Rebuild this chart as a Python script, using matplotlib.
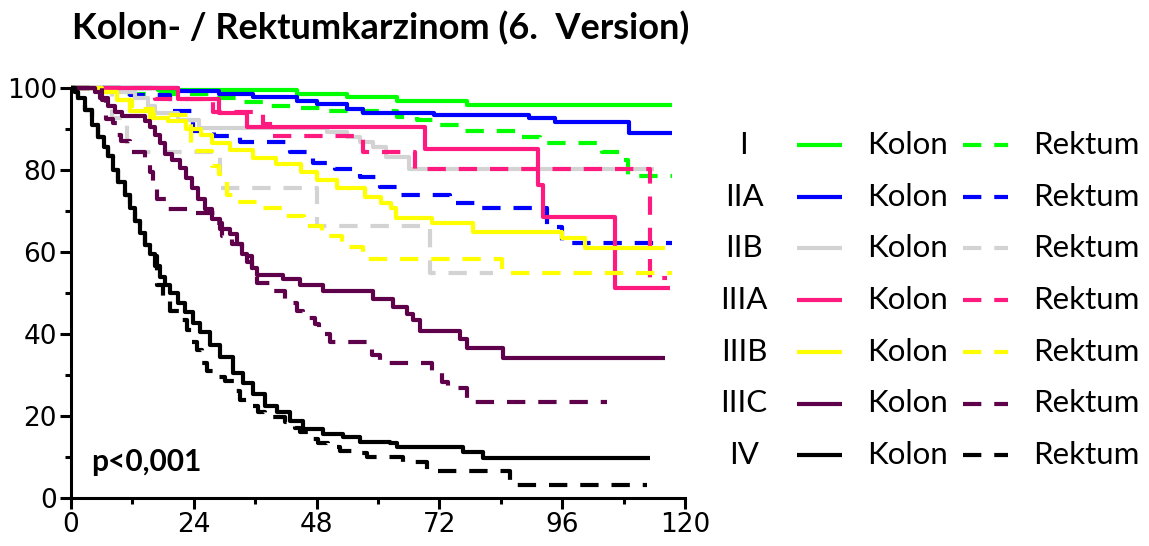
import matplotlib
matplotlib.use("Agg")
import matplotlib.pyplot as plt
from matplotlib.lines import Line2D
from matplotlib.ticker import MultipleLocator

# ---- data (months, % survival) ----
stages = ["I", "IIA", "IIB", "IIIA", "IIIB", "IIIC", "IV"]
colours = ["#00ff00", "#0000ff", "#d3d3d3", "#ff1a7f", "#ffff00", "#5e004a", "#000000"]
x_ticks = [0, 24, 48, 72, 96, 120]
y_ticks = [0, 20, 40, 60, 80, 100]

i_kolon_t = [0, 17, 44.2, 53.9, 63.7, 77.4, 117.5]
i_kolon_s = [100, 99.6, 98.6, 97.7, 96.9, 95.9, 95.9]
i_rektum_t = [0, 11, 27.5, 33, 38.5, 44.8, 50, 63.7, 67.6, 72, 76, 88, 91.7, 103.8, 107.3, 108.8, 117.5]
i_rektum_s = [100, 98.6, 97.5, 96.5, 95.7, 95.2, 94.5, 93, 92.2, 91, 89.5, 88, 86.6, 84.4, 82.4, 78.5, 78.5]

iia_kolon_t = [0, 21, 29, 35.5, 44.2, 48, 54, 57, 71, 89.5, 94.5, 109, 117.5]
iia_kolon_s = [100, 99.3, 98.5, 97.8, 96.8, 96, 94.8, 94, 93.4, 92.6, 91.7, 89, 89]
iia_rektum_t = [0, 11.5, 19.3, 23.8, 28, 33, 42.8, 47.3, 51.5, 56.5, 60.4, 64.3, 74, 80.3, 93, 96, 117.5]
iia_rektum_s = [100, 98.2, 94.3, 89.5, 88.3, 86.8, 84.4, 81.7, 80.2, 78.3, 75.9, 73.9, 72, 70.7, 66, 62.2, 62.2]

iib_kolon_t = [0, 9, 12.5, 15, 16.5, 21, 25, 50, 54, 56.5, 59, 61.5, 66, 114]
iib_kolon_s = [100, 99, 97.5, 95.5, 94, 92.2, 90.3, 89.3, 88, 86.8, 85.6, 83.2, 80.2, 80.2]
iib_rektum_t = [0, 8, 11, 29.1, 48.1, 70.2, 82.5]
iib_rektum_s = [100, 92.8, 84.4, 75.5, 66.3, 55, 55]

iiia_kolon_t = [0, 21, 29, 34.4, 69.2, 91.3, 92.2, 106.3, 117]
iiia_kolon_s = [100, 97.3, 93.8, 90.6, 85.1, 76.3, 68.5, 51.2, 51.2]
iiia_rektum_t = [0, 16.4, 27.7, 37.5, 39.5, 57.1, 67.2, 113.2, 116.5]
iiia_rektum_s = [100, 97.3, 94.2, 91.2, 88.2, 84.4, 80.2, 53.7, 53.7]

iiib_kolon_t = [0, 6, 9, 11.5, 15.5, 19, 22.5, 25.5, 27.5, 31, 35.5, 40, 45, 48, 52, 57.5,
                60.5, 62.5, 63.5, 70.5, 78.5, 96, 100.5, 116]
iiib_kolon_s = [100, 99, 97, 94.5, 92.7, 92, 90, 88.5, 86.5, 85, 83, 81.5, 79.5, 77.6, 75.6, 73.5,
                72, 70.7, 68.3, 67.1, 64.9, 63.4, 61, 61]
iiib_rektum_t = [0, 6, 9, 12, 16, 23.5, 27.5, 29, 30.5, 32.5, 36.5, 41.5, 45.5, 49, 53, 57, 84.2, 117.5]
iiib_rektum_s = [100, 99, 97, 95, 93.5, 84.6, 81, 79, 74, 72.2, 70.7, 68.7, 66.4, 63.8, 61.2, 58.3, 54.9, 54.9]

iiic_kolon_t = [0, 4.7, 5.7, 7.2, 8.6, 10, 14.5, 15.4, 16.4, 17.4, 18.4, 19.7, 21.3, 22.5, 23.6, 24.8,
                26.2, 27.6, 29.1, 31.1, 32.4, 33.4, 34.4, 35.4, 36.3, 41.4, 44.8, 49.2, 59, 62.9,
                65.7, 66.8, 68.2, 76, 77.4, 84.4, 116]
iiic_kolon_s = [100, 99, 97.5, 95.5, 94.2, 93.2, 92, 90.5, 88.5, 86.5, 84, 82.5, 80.5, 78, 75.5, 73,
                70.5, 68, 65.5, 64.3, 62, 59.5, 57.5, 56, 54.5, 53.5, 52, 50.5, 48.5, 46.6,
                45, 43.5, 40.8, 38.7, 36.6, 34.1, 34.1]
iiic_rektum_t = [0, 6.0, 6.8, 8.2, 9.0, 9.8, 11.5, 14.5, 15.5, 16.0, 16.8, 18.8, 23.8, 28.1, 29.5,
                 31.5, 33.5, 35.4, 36.3, 38.9, 41.8, 44.2, 45.3, 47.7, 48.5, 50.6, 58.8, 60.4,
                 70.5, 72.5, 73.6, 77.4, 104.8]
iiic_rektum_s = [100, 97, 92.5, 91.5, 88.5, 87, 84.5, 82, 79.5, 76, 73, 70.5, 69.5, 67, 64,
                 62, 59, 56, 52.5, 50.5, 47.5, 45.5, 44, 42.5, 40, 38, 35, 32.9,
                 30.5, 28.3, 26.8, 23.4, 23.4]

iv_kolon_t = [0, 0.8, 1.4, 2.7, 4.1, 5.3, 6.4, 7.2, 8.2, 9.2, 10.6, 11.5, 12.5, 13.5, 14.5, 15.4,
              16.4, 17.4, 18.4, 19.3, 20.9, 22.3, 23.8, 25.2, 27.2, 29.1, 31.7, 33.6, 35.6, 37.9,
              40.3, 42.8, 45.3, 49.2, 53.2, 56.5, 62.3, 63.7, 76.6, 80.5, 113.2]
iv_kolon_s = [100, 99, 97.6, 94.6, 91, 88, 85.5, 83.5, 80, 77, 74, 70.7, 67.6, 64.6, 61.7, 59.5,
              56.5, 54, 52, 50, 47.5, 45.4, 42.7, 40.5, 37.3, 34.5, 30.5, 28, 25.3, 22.5,
              21, 18.8, 16.8, 15.6, 14.9, 13.7, 13.4, 12.4, 11.3, 9.8, 9.8]
iv_rektum_t = [0, 0.8, 1.4, 2.7, 4.1, 5.3, 6.4, 7.2, 8.2, 9.2, 10.6, 11.5, 12.5, 13.5, 14.5, 15.4,
               16.8, 17.9, 19.3, 21.3, 22.7, 23.6, 24.6, 25.6, 26.6, 28.1, 30.1, 32, 33, 35, 36.5,
               37.9, 41.8, 43.8, 44.8, 46.7, 48.3, 50.2, 52.6, 55.5, 57.8, 64.9, 69.5, 85.8, 112.6]
iv_rektum_s = [100, 99, 97.6, 94.6, 91, 88, 85.5, 83.5, 80, 77, 74, 70.7, 67.6, 64.6, 61.7, 59,
               52, 48, 45.5, 43.5, 41, 38, 36, 33, 31, 29.5, 28.5, 26, 24, 22.5, 21,
               19.8, 18.5, 17, 16, 14.5, 13.4, 12.5, 11.5, 11, 10, 8.8, 6.6, 3.2, 3.2]

kolon = [(i_kolon_t, i_kolon_s), (iia_kolon_t, iia_kolon_s), (iib_kolon_t, iib_kolon_s),
         (iiia_kolon_t, iiia_kolon_s), (iiib_kolon_t, iiib_kolon_s), (iiic_kolon_t, iiic_kolon_s),
         (iv_kolon_t, iv_kolon_s)]
rektum = [(i_rektum_t, i_rektum_s), (iia_rektum_t, iia_rektum_s), (iib_rektum_t, iib_rektum_s),
          (iiia_rektum_t, iiia_rektum_s), (iiib_rektum_t, iiib_rektum_s), (iiic_rektum_t, iiic_rektum_s),
          (iv_rektum_t, iv_rektum_s)]

# ---- figure ----
W, H = 1149, 546
fig = plt.figure(figsize=(W / 100, H / 100), dpi=100)
ax = fig.add_axes([71 / W, 1 - 498 / H, (685 - 71) / W, (498 - 88) / H])

lw = 3.0
dash = (0, (4.4, 3.1))
for k in range(len(stages)):
    t, s = kolon[k]
    ax.step(t, s, where="post", color=colours[k], lw=lw, solid_capstyle="butt", clip_on=False)
    t, s = rektum[k]
    ax.step(t, s, where="post", color=colours[k], lw=lw, linestyle=dash,
            dash_capstyle="butt", clip_on=False)

ax.set_xlim(0, 120)
ax.set_ylim(0, 100)
ax.set_xticks(x_ticks)
ax.set_yticks(y_ticks)
ax.xaxis.set_minor_locator(MultipleLocator(12))
ax.yaxis.set_minor_locator(MultipleLocator(10))
for side in ["top", "right"]:
    ax.spines[side].set_visible(False)
for side in ["left", "bottom"]:
    ax.spines[side].set_linewidth(2.2)
ax.tick_params(which="major", length=8, width=2.2, pad=2)
ax.tick_params(which="minor", length=4, width=2.2)
tick_font = ["Liberation Sans Narrow", "DejaVu Sans"]
for lab in ax.get_xticklabels() + ax.get_yticklabels():
    lab.set_family(tick_font)
    lab.set_fontsize(19)

ax.text(4, 6.6, "p<0,001", family="Lato", weight="bold", fontsize=21.5, va="baseline")

fig.text(72 / W, 1 - 39 / H, "Kolon- / Rektumkarzinom (6.  Version)", family="Lato",
         weight="bold", fontsize=26, va="baseline")

# ---- legend, drawn by hand in three columns ----
row_y = [145 + 51.7 * k for k in range(len(stages))]
for k, name in enumerate(stages):
    yf = 1 - row_y[k] / H
    fig.text(744 / W, yf, name, family="Lato", fontsize=22.5, ha="center", va="center")
    fig.add_artist(Line2D([797 / W, 842 / W], [yf, yf], color=colours[k], lw=lw,
                          solid_capstyle="butt"))
    fig.text(867 / W, yf, "Kolon", family="Lato", fontsize=22.5, va="center")
    fig.add_artist(Line2D([963 / W, 1008 / W], [yf, yf], color=colours[k], lw=lw,
                          linestyle=dash, dash_capstyle="butt"))
    fig.text(1033 / W, yf, "Rektum", family="Lato", fontsize=22.5, va="center")

fig.savefig("out.png", dpi=100)
